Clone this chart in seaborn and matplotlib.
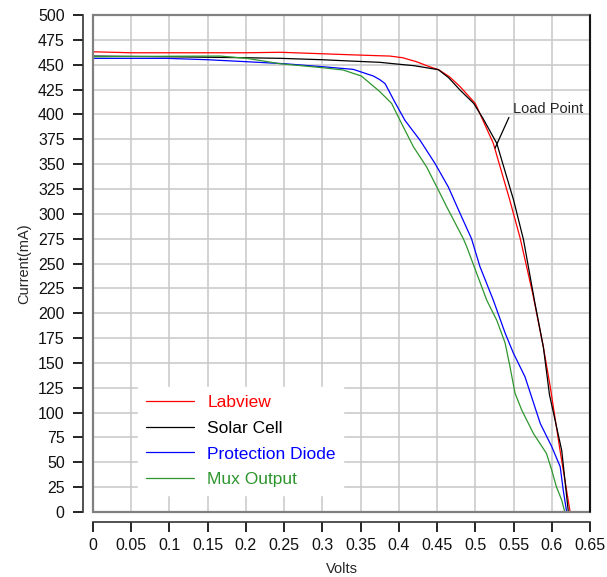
import numpy as np
import pandas as pd
import matplotlib
matplotlib.use("Agg")
import matplotlib.pyplot as plt
import seaborn as sns
from matplotlib.patches import Rectangle

# I-V curves (Volts, mA)
labview_v = [0, 0.05, 0.1, 0.15, 0.2, 0.245, 0.3, 0.336, 0.375, 0.388, 0.405, 0.423, 0.44,
             0.452, 0.466, 0.48, 0.5, 0.5235, 0.545, 0.5585, 0.575, 0.589, 0.598, 0.6108, 0.624]
labview_i = [463, 462, 462, 462, 462, 462.5, 461, 460, 459, 458.7, 457, 453, 448,
             445, 438, 428, 411, 371, 314, 276, 220, 166, 126, 62, 0]

solar_v = [0, 0.1, 0.2, 0.245, 0.3, 0.336, 0.375, 0.393, 0.42, 0.4516, 0.465, 0.48, 0.498,
           0.51, 0.528, 0.55, 0.563, 0.578, 0.589, 0.597, 0.613, 0.6217]
solar_i = [458.7, 458, 457, 456.4, 455, 453.7, 452.4, 451, 449, 445, 437, 424.5, 411,
           396, 371, 314, 274, 210, 166, 118, 62, 0]

diode_v = [0, 0.05, 0.0963, 0.15, 0.201, 0.25, 0.3, 0.3404, 0.3667, 0.375, 0.382, 0.395, 0.408,
           0.4277, 0.447, 0.4647, 0.48, 0.495, 0.506, 0.5236, 0.539, 0.5497, 0.565, 0.585, 0.6,
           0.611, 0.615, 0.6195]
diode_i = [456.4, 456.4, 456.4, 455, 453, 451, 448, 445.3, 438.6, 435, 431, 412, 394,
           374, 351, 327, 300.5, 275, 247, 213, 180, 160, 136, 89, 65.7,
           45.6, 22, 0]

mux_v = [0, 0.1, 0.166, 0.201, 0.2446, 0.3, 0.327, 0.351, 0.375, 0.3906, 0.4015, 0.419, 0.4364,
         0.4516, 0.4626, 0.4843, 0.4887, 0.515, 0.528, 0.539, 0.5454, 0.552, 0.5607, 0.576, 0.593,
         0.6, 0.606, 0.613, 0.617]
mux_i = [458, 458.5, 458.7, 456.4, 451, 447, 444.7, 438.6, 423, 411, 394, 367.5, 347,
         324, 307, 275, 267, 213, 193, 170, 146, 119.4, 102.6, 79, 59,
         42, 25.5, 12, 0]

series_names = ["Labview", "Solar Cell", "Protection Diode", "Mux Output"]
series_colors = ["#ff0000", "#000000", "#0000ff", "#2e962e"]

load_point = (0.5258, 366)
load_text = (0.5497, 405)
load_line_start = (0.544, 397)

x_ticks = np.round(np.arange(0, 0.651, 0.05), 2)
y_ticks = np.arange(0, 501, 25)

frames = []
for name, v, i in zip(series_names,
                      [labview_v, solar_v, diode_v, mux_v],
                      [labview_i, solar_i, diode_i, mux_i]):
    frames.append(pd.DataFrame({"Volts": v, "Current": i, "Series": name}))
df = pd.concat(frames, ignore_index=True)

sns.set_theme(style="white")
plt.rcParams["font.family"] = ["Liberation Sans", "DejaVu Sans"]

fig = plt.figure(figsize=(6.07, 5.77), dpi=100)
ax = fig.add_axes([93 / 607, 65 / 577, 497 / 607, 497 / 577])

sns.lineplot(data=df, x="Volts", y="Current", hue="Series", hue_order=series_names,
             palette=series_colors, sort=False, estimator=None, linewidth=0.9,
             legend=False, ax=ax)

ax.set_xlim(0, 0.65)
ax.set_ylim(0, 500)
ax.set_xticks(x_ticks)
ax.set_xticklabels([f"{t:g}" for t in x_ticks])
ax.set_yticks(y_ticks)
ax.grid(True, color="#c8c8c8", linewidth=1.1)
ax.set_axisbelow(True)

# detached axes like the LabVIEW graph
for side in ["top", "right"]:
    ax.spines[side].set_visible(False)
for side in ["left", "bottom"]:
    ax.spines[side].set_position(("outward", 7.2))
    ax.spines[side].set_color("#333333")
    ax.spines[side].set_linewidth(1.2)
ax.tick_params(axis="both", which="major", direction="out", length=7.2, width=1.2,
               color="black", labelsize=11.5, labelcolor="#111111",
               bottom=True, left=True)
ax.tick_params(axis="y", pad=6)
ax.tick_params(axis="x", pad=4)

# plot frame
ax.add_patch(Rectangle((0, 0), 1, 1, transform=ax.transAxes, fill=False,
                       edgecolor="#808080", linewidth=1.6, clip_on=False, zorder=5))
ax.plot([1, 1], [0, 1], transform=ax.transAxes, color="black", lw=1.2, clip_on=False, zorder=6)

ax.set_xlabel("Volts", fontsize=10.5, labelpad=7)
ax.set_ylabel("Current(mA)", fontsize=10.5, labelpad=5)

# annotation
ax.annotate("", xy=load_point, xytext=load_line_start,
            arrowprops=dict(arrowstyle="-", color="black", lw=0.9, shrinkA=0, shrinkB=0))
ax.text(load_text[0], load_text[1], "Load Point", fontsize=10.5, va="center", ha="left")

handles = [plt.Line2D([], [], color=c, lw=0.9) for c in series_colors]
leg = ax.legend(handles, series_names, loc="upper left", bbox_to_anchor=(0.09, 0.252),
                borderaxespad=0, frameon=True, fontsize=12.5, handlelength=2.8,
                handletextpad=0.75, labelspacing=0.62, borderpad=0.45,
                labelcolor=series_colors, fancybox=False)
leg.get_frame().set_facecolor("white")
leg.get_frame().set_edgecolor("white")
leg.get_frame().set_alpha(1)

fig.savefig("out.png", dpi=100)
